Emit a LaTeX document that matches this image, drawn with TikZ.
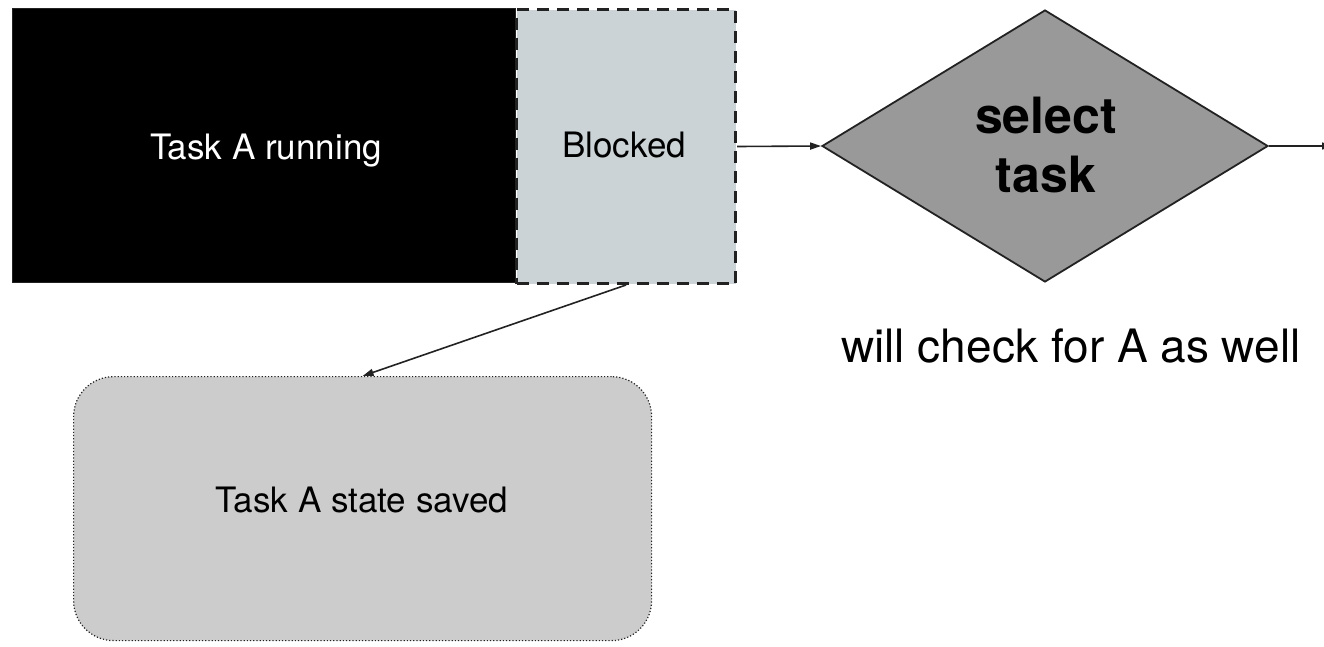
\documentclass[tikz,border=0pt]{standalone}
\usepackage{fontspec}
\setmainfont{TeX Gyre Heros}
\usetikzlibrary{shapes.geometric,arrows.meta}
\definecolor{dk}{HTML}{222222}
\definecolor{blk}{HTML}{CBD3D7}
\definecolor{dia}{HTML}{999999}
\definecolor{sav}{HTML}{CCCCCC}
\tikzset{
  conn/.style={draw=dk, line width=1.6pt, -{Triangle[length=11pt,width=7pt]}},
  lbl/.style={font=\fontsize{35}{42}\selectfont, text=black, anchor=base, inner sep=0pt},
}
\begin{document}
\begin{tikzpicture}[x=1pt,y=-1pt]
\useasboundingbox (0,0) rectangle (1324,646);
\node[draw=dk, line width=1pt, fill=black, minimum width=503pt, minimum height=274pt, inner sep=0pt, anchor=north west] (run) at (12,8) {};
\node[lbl, text=white] (runl) at (266,159) {Task A running};
\node[draw=dk, fill=blk, dash pattern=on 12pt off 8pt, line width=3pt, minimum width=219pt, minimum height=274pt, inner sep=0pt, anchor=north west] (blk) at (515,8) {};
\node[lbl] (blkl) at (624,157) {Blocked};
\node[diamond, draw=dk, fill=dia, line width=1.8pt, minimum width=446pt, minimum height=272pt, inner sep=0pt, aspect=1.64] (sel) at (1045,146) {};
\node[align=center, font=\bfseries\fontsize{50}{59}\selectfont, inner sep=0pt] (sell) at (1046,145) {select\\task};
\node[font=\fontsize{46}{54}\selectfont, anchor=base, inner sep=0pt] (note) at (1071,362) {will check for A as well};
\node[draw=dk, fill=sav, dotted, line width=1.2pt, rounded corners=40pt, minimum width=578pt, minimum height=264pt, inner sep=0pt, anchor=north west] (save) at (73,376) {};
\node[lbl] (savel) at (362,512) {Task A state saved};
\coordinate (out) at (1333,146);
\draw[conn] (blk.east) -- (sel.west);
\draw[conn] (sel.east) -- (out);
\draw[conn] (blk.south) -- (save.north);
\end{tikzpicture}
\end{document}
